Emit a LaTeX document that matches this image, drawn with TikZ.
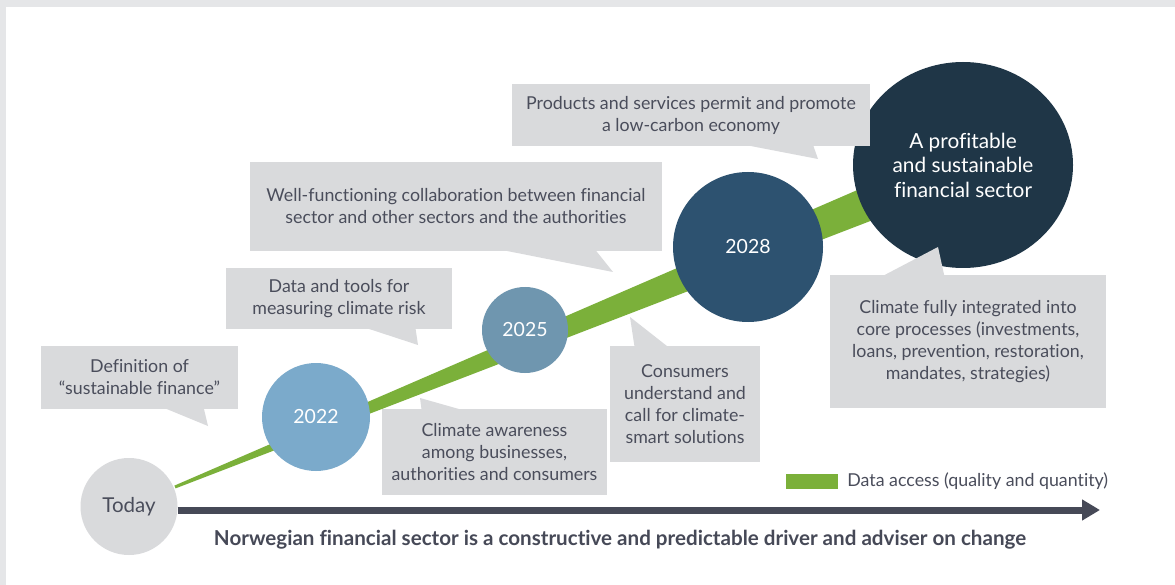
\documentclass[tikz,border=0pt]{standalone}
\usepackage{fontspec}
\setmainfont{Lato}[Ligatures=NoCommon]
\usetikzlibrary{calc,arrows.meta,positioning}

\definecolor{framegrey}{HTML}{E5E6E8}
\definecolor{boxgrey}{HTML}{D9DADC}
\definecolor{txtgrey}{HTML}{4A4D5B}
\definecolor{datagreen}{HTML}{7BB03A}
\definecolor{axisgrey}{HTML}{464957}
\definecolor{yearA}{HTML}{7BAACB}
\definecolor{yearB}{HTML}{6F96AF}
\definecolor{yearC}{HTML}{2D5270}
\definecolor{goalblue}{HTML}{1F3647}

\tikzset{
  callout/.style={fill=boxgrey,text=txtgrey,align=center,inner sep=0pt,
    font=\fontsize{17.8}{22}\selectfont},
  milestone/.style={circle,inner sep=0pt,text=white,align=center,
    font=\fontsize{19.5}{24}\selectfont},
}

\begin{document}
\begin{tikzpicture}[x=1pt,y=-1pt]
  \useasboundingbox (0,0) rectangle (1175,585);
  \fill[framegrey] (0,0) rectangle (1175,585);
  \fill[white] (6,7) rectangle (1175,585);

  % data access band, widening towards the goal
  \coordinate (band0) at (175,487);
  \coordinate (band1) at (963,165);
  \fill[datagreen] ($(band0)!1.5pt!90:(band1)$) -- ($(band1)!19pt!-90:(band0)$)
    -- ($(band1)!19pt!90:(band0)$) -- ($(band0)!1.5pt!-90:(band1)$) -- cycle;

  % milestones
  \node[milestone,fill=boxgrey,text=txtgrey,minimum size=97pt,
    font=\fontsize{20.5}{24}\selectfont] (today) at (129,506.5) {Today};
  \node[milestone,fill=yearA,minimum size=108pt] (y2022) at (316,417) {2022};
  \node[milestone,fill=yearB,minimum size=86pt] (y2025) at (525,330) {2025};
  \node[milestone,fill=yearC,minimum size=150pt] (y2028) at (748,247) {2028};
  \fill[goalblue] (band1) ellipse [x radius=110, y radius=103];
  \node[milestone,font=\fontsize{20.8}{24.5}\selectfont] (goal) at (band1)
    {A profitable\\and sustainable\\financial sector};

  % time axis
  \coordinate (axisend) at (1100,510);
  \draw[axisgrey,line width=7pt,-{Triangle[length=18pt,width=20pt]}]
    (today.east |- axisend) -- (axisend);
  \node[text=axisgrey,font=\fontsize{20.6}{24}\bfseries] (motto) at (620,540)
    {Norwegian financial sector is a constructive and predictable driver and adviser on change};

  % legend
  \node[fill=datagreen,minimum width=52pt,minimum height=15pt,inner sep=0pt] (legkey) at (812,481.5) {};
  \node[right=9pt of legkey,inner sep=0pt,text=txtgrey,font=\fontsize{17.8}{20}\selectfont] (legtext)
    {Data access (quality and quantity)};

  % callouts
  \fill[boxgrey] (157,405) -- (208,426) -- (203,405) -- cycle;
  \node[callout,minimum width=197pt,minimum height=63pt] (defn) at (139.5,377.5)
    {Definition of\\“sustainable finance”};
  \fill[boxgrey] (357,325) -- (418,345) -- (415,325) -- cycle;
  \node[callout,minimum width=226pt,minimum height=61pt] (tools) at (339,298.5)
    {Data and tools for\\measuring climate risk};
  \fill[boxgrey] (487,247) -- (613,272) -- (593,247) -- cycle;
  \node[callout,minimum width=412pt,minimum height=89pt] (collab) at (456,206.5)
    {Well-functioning collaboration between financial\\sector and other sectors and the authorities};
  \fill[boxgrey] (730,142) -- (818,159) -- (812,142) -- cycle;
  \node[callout,minimum width=358pt,minimum height=62pt] (products) at (691,115)
    {Products and services permit and promote\\a low-carbon economy};
  \fill[boxgrey] (420,398) -- (422,413) -- (473,413) -- cycle;
  \node[callout,minimum width=225pt,minimum height=86pt] (aware) at (494.5,452)
    {Climate awareness\\among businesses,\\authorities and consumers};
  \fill[boxgrey] (630,317) -- (635,350) -- (672,350) -- cycle;
  \node[callout,minimum width=150pt,minimum height=116pt] (consumers) at (685,404)
    {Consumers\\understand and\\call for climate-\\smart solutions};
  \fill[boxgrey] (877,279) -- (938,247) -- (945,279) -- cycle;
  \node[callout,minimum width=276pt,minimum height=133pt] (integrated) at (968,341.5)
    {Climate fully integrated into\\core processes (investments,\\loans, prevention, restoration,\\mandates, strategies)};
\end{tikzpicture}
\end{document}
